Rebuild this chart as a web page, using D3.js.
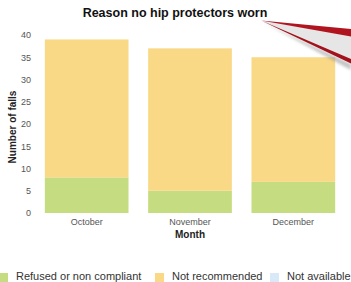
<!DOCTYPE html>
<html lang="en">
<head>
<meta charset="UTF-8">
<title>Reason no hip protectors worn</title>
<script src="https://d3js.org/d3.v7.min.js"></script>
<style>
    body { margin: 0; background: #fff; font-family: "Liberation Sans", Arial, sans-serif; overflow: hidden; }
    .tick text { fill: #555; font-size: 9px; }
    .tick line, .domain { display: none; }
</style>
</head>
<body>
<div id="chart"></div>
<script>
    // data
    const months = ["October", "November", "December"];
    const seriesNames = ["Refused or non compliant", "Not recommended", "Not available"];
    const refused = [8, 5, 7];
    const notRecommended = [31, 32, 28];
    const notAvailable = [0, 0, 0];
    const yTicks = [0, 5, 10, 15, 20, 25, 30, 35, 40];
    const colors = ["#c6dc80", "#f9d886", "#d9e9f8"];

    const width = 351, height = 282;

    const svg = d3.select("#chart").append("svg")
        .attr("width", width)
        .attr("height", height);

    const x = d3.scaleBand()
        .domain(months)
        .range([35, 345])
        .paddingInner(0.19)
        .paddingOuter(0.095);

    const y = d3.scaleLinear()
        .domain([0, 40])
        .range([213, 35]);

    // stacked rows
    const rows = months.map((m, i) => ({
        month: m,
        s0: refused[i],
        s1: notRecommended[i],
        s2: notAvailable[i]
    }));
    const stack = d3.stack().keys(["s0", "s1", "s2"]);
    const layers = stack(rows);

    svg.selectAll(".layer")
        .data(layers)
        .enter().append("g")
        .attr("class", "layer")
        .attr("fill", (d, i) => colors[i])
        .selectAll("rect")
        .data(d => d)
        .enter().append("rect")
        .attr("x", d => x(d.data.month))
        .attr("width", x.bandwidth())
        .attr("y", d => y(d[1]))
        .attr("height", d => y(d[0]) - y(d[1]));

    // axes
    svg.append("g")
        .attr("transform", "translate(31,0)")
        .call(d3.axisLeft(y).tickValues(yTicks).tickSize(0).tickPadding(0));

    svg.append("g")
        .attr("transform", "translate(0,216)")
        .call(d3.axisBottom(x).tickSize(0).tickPadding(3));

    // title
    svg.append("text")
        .attr("x", 175)
        .attr("y", 17)
        .attr("text-anchor", "middle")
        .style("font-size", "12.5px")
        .style("font-weight", "bold")
        .attr("fill", "#111")
        .text("Reason no hip protectors worn");

    svg.append("text")
        .attr("transform", "translate(16,127) rotate(-90)")
        .attr("text-anchor", "middle")
        .style("font-size", "10px")
        .style("font-weight", "bold")
        .attr("fill", "#222")
        .text("Number of falls");

    svg.append("text")
        .attr("x", x("November") + x.bandwidth() / 2)
        .attr("y", 238)
        .attr("text-anchor", "middle")
        .style("font-size", "10px")
        .style("font-weight", "bold")
        .attr("fill", "#222")
        .text("Month");

    // legend
    const legendX = [-1, 155, 270];
    const legend = svg.selectAll(".legend")
        .data(seriesNames)
        .enter().append("g")
        .attr("transform", (d, i) => `translate(${legendX[i]},273)`);
    legend.append("rect")
        .attr("width", 9)
        .attr("height", 9)
        .attr("fill", (d, i) => colors[i]);
    legend.append("text")
        .attr("x", 17)
        .attr("y", 7)
        .style("font-size", "11px")
        .attr("fill", "#333")
        .text(d => d);

    // red callout arrow in the corner
    const defs = svg.append("defs");
    defs.append("filter").attr("id", "shadow")
        .attr("x", "-20%").attr("y", "-20%").attr("width", "140%").attr("height", "160%")
        .append("feGaussianBlur").attr("stdDeviation", 1.5);

    const arrow = svg.append("g");
    arrow.append("path")
        .attr("d", "M263,22 L351,64 L351,70 Z")
        .attr("fill", "#999")
        .attr("opacity", 0.6)
        .attr("filter", "url(#shadow)");
    arrow.append("path")
        .attr("d", "M262,21 L351,35 L351,62 Z")
        .attr("fill", "#e6e6e6");
    arrow.append("path")
        .attr("d", "M261,20.5 L351,29 L351,36.5 Z")
        .attr("fill", "#b0151f");
    arrow.append("path")
        .attr("d", "M261,20.5 L351,59 L351,63.5 Z")
        .attr("fill", "#a3121c");
</script>
</body>
</html>
